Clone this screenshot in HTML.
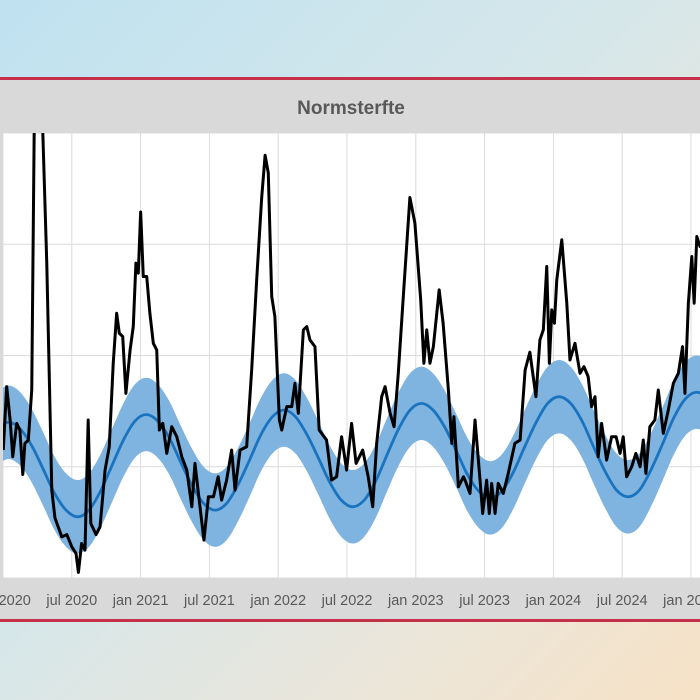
<!DOCTYPE html>
<html><head><meta charset="utf-8"><style>
html,body{margin:0;padding:0}
body{width:700px;height:700px;overflow:hidden;position:relative;
background:linear-gradient(135deg,#bfe2f0 0%,#d6e7ea 45%,#ebe6da 75%,#f6e2c6 100%);font-family:"Liberation Sans",sans-serif}
</style></head><body>
<svg width="700" height="700" viewBox="0 0 700 700" style="position:absolute;left:0;top:0">
<rect x="0" y="77" width="700" height="3" fill="#c5304a"/>
<rect x="0" y="80" width="700" height="539" fill="#d9d9d9"/>
<rect x="0" y="619" width="700" height="3" fill="#c5304a"/>
<text x="351" y="114" text-anchor="middle" font-size="19" font-weight="bold" fill="#595959">Normsterfte</text>
<defs><clipPath id="pc"><rect x="3" y="133" width="697" height="445"/></clipPath></defs>
<rect x="3" y="133" width="697" height="445" fill="#ffffff"/>
<g id="grid"></g>
<g id="marks" clip-path="url(#pc)"></g>
<g id="xlabels"></g>
</svg>
<script>
const xTickLabels=["jan 2020","jul 2020","jan 2021","jul 2021","jan 2022","jul 2022","jan 2023","jul 2023","jan 2024","jul 2024","jan 2025"];
const yTicks=[0,100,200,300,400];
// expected values, mid-month, starting Dec 2019
const expected=[135,140,134,119,98,76,61,55,61,78,101,124,141,147,141,126,104,83,67,61,67,84,106,129,145,151,145,129,108,86,70,64,70,87,111,134,151,157,151,136,115,93,78,72,78,95,118,140,157,163,157,141,118,96,79,73,79,97,120,144,161,167,161,146];
const upper=[168,173,167,152,131,109,94,88,94,111,134,157,174,180,174,159,137,116,100,94,100,117,139,162,178,184,178,162,141,119,103,97,103,120,144,167,184,190,184,169,148,126,111,105,111,128,151,173,190,196,190,174,151,129,112,106,112,130,153,177,194,200,194,179];
const lower=[102,107,101,86,65,43,28,22,28,45,68,91,108,114,108,93,71,50,34,28,34,51,73,96,112,118,112,96,75,53,37,31,37,54,78,101,118,124,118,103,82,60,45,39,45,62,85,107,124,130,124,108,85,63,46,40,46,64,87,111,128,134,128,113];
// observed: week since 2020-01-01, value
const obsWeek=[0.1,1.4,2.7,3.7,5.2,6.4,7.5,8.3,9.6,10.9,12.1,13.6,15.1,16.6,18.5,19.7,22.3,24.2,26.1,27.7,28.6,29.8,31.1,32.3,33.3,35.3,36.8,38.7,40.3,41.8,43.1,44.1,45.4,46.6,48.2,49.4,50.4,51.3,52.2,53.2,54.5,55.7,57.0,58.3,59.3,60.6,62.1,64.0,65.9,67.8,69.7,71.6,72.8,74.7,76.2,77.9,79.8,81.6,82.9,84.8,86.7,88.0,89.9,92.4,94.3,96.2,98.1,99.4,100.6,101.9,103.1,104.8,105.7,107.6,109.5,110.7,112.0,113.9,115.2,116.4,118.3,119.9,122.7,124.6,126.5,128.4,130.3,132.2,133.9,136.4,138.5,140.2,141.7,143.6,144.9,146.8,148.3,149.9,151.8,154.3,156.2,158.4,159.6,160.7,161.9,163.2,165.4,166.9,168.9,170.2,171.0,172.7,174.6,175.2,177.1,179.0,180.9,181.9,183.4,184.4,185.3,186.6,187.8,189.7,191.6,194.1,196.1,198.0,199.8,202.1,203.6,204.9,206.2,207.2,208.1,209.1,210.0,211.9,213.8,215.0,216.9,218.8,220.3,221.9,223.2,224.5,225.7,227.0,228.9,230.8,232.5,234.0,235.2,236.5,238.4,240.0,241.6,242.8,243.8,245.3,247.2,248.5,250.4,252.3,254.2,256.1,257.7,258.6,259.9,261.2,262.1,263.1,264.3,266];
const obsValue=[115,172,142,109,139,133,93,121,124,169,470,480,400,283,79,54,37,39,28,22,5,31,25,142,49,39,46,97,118,193,238,220,217,166,205,226,283,274,329,271,271,238,211,205,133,139,112,136,127,109,97,64,103,64,34,73,73,91,70,88,115,79,115,118,187,268,342,380,364,253,235,142,133,154,154,175,148,223,226,214,208,133,124,88,91,127,97,139,103,115,91,64,121,163,172,148,136,184,253,342,319,250,193,223,193,208,259,229,169,121,145,82,91,88,76,142,88,58,88,58,85,58,85,76,94,121,124,187,203,163,214,223,280,193,241,229,268,304,247,196,211,184,190,181,154,163,109,139,106,127,127,112,127,91,100,112,100,124,94,136,142,169,130,151,175,184,208,166,247,289,247,307,298,300];

const X0=3, PXW=137.6/52.18, Y0=578, PXU=1.1125;
const xW=w=>X0+w*PXW;
const xM=m=>X0+m*(137.6/12);
const yV=v=>Y0-v*PXU;
const NS='http://www.w3.org/2000/svg';
function mk(tag,attrs,parent){const e=document.createElementNS(NS,tag);for(const k in attrs)e.setAttribute(k,attrs[k]);parent.appendChild(e);return e;}
function smooth(pts){let d='M'+pts[0][0]+','+pts[0][1];for(let i=0;i<pts.length-1;i++){const p0=pts[Math.max(0,i-1)],p1=pts[i],p2=pts[i+1],p3=pts[Math.min(pts.length-1,i+2)];d+=' C'+(p1[0]+(p2[0]-p0[0])/6)+','+(p1[1]+(p2[1]-p0[1])/6)+' '+(p2[0]-(p3[0]-p1[0])/6)+','+(p2[1]-(p3[1]-p1[1])/6)+' '+p2[0]+','+p2[1];}return d;}
const grid=document.getElementById('grid'),marks=document.getElementById('marks'),xl=document.getElementById('xlabels');
yTicks.forEach((t,i)=>{const l=mk('line',{x1:3,x2:700,y1:yV(t),y2:yV(t),stroke:'#dcdcdc','stroke-width':1},grid);

});
xTickLabels.forEach((s,i)=>{const x=xM(i*6);
const l=mk('line',{x1:x,x2:x,y1:133,y2:578,stroke:'#dcdcdc','stroke-width':1},grid);


const t=mk('text',{x:x,y:605,'text-anchor':'middle','font-size':14.5,fill:'#595959'},xl);t.textContent=s;

});
const up=upper.map((v,i)=>[xM(i-0.5),yV(v)]),lo=lower.map((v,i)=>[xM(i-0.5),yV(v)]).reverse();
const bandD=smooth(up)+' L'+lo[0][0]+','+lo[0][1]+smooth(lo).replace(/^M[^C]*/,'')+' Z';
const band=mk('path',{d:bandD,fill:'#7fb3e0',stroke:'none'},marks);


const ex=mk('path',{d:smooth(expected.map((v,i)=>[xM(i-0.5),yV(v)])),fill:'none',stroke:'#1a73bf','stroke-width':2.8},marks);


const ob=mk('polyline',{points:obsWeek.map((w,i)=>xW(w)+','+yV(obsValue[i])).join(' '),fill:'none',stroke:'#000','stroke-width':3,'stroke-linejoin':'round'},marks);


</script>
</body></html>
